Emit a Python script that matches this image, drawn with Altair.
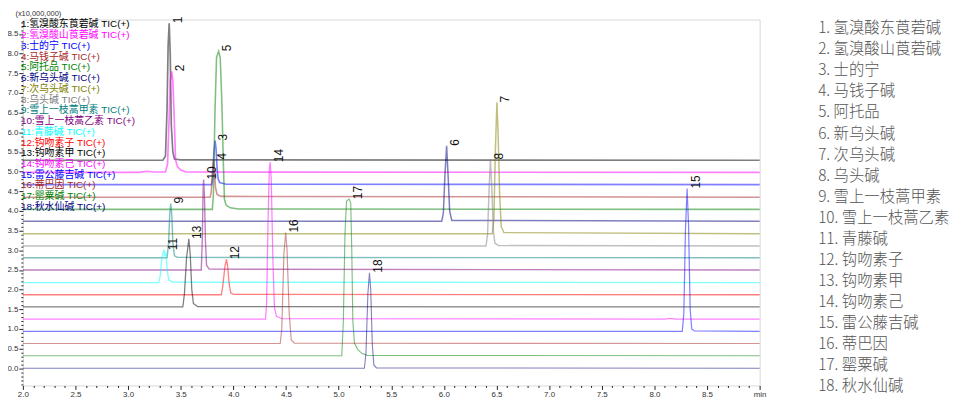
import altair as alt
import pandas as pd

# ---------------- data ----------------
names = ["氢溴酸东莨菪碱", "氢溴酸山莨菪碱", "士的宁", "马钱子碱", "阿托品", "新乌头碱",
         "次乌头碱", "乌头碱", "雪上一枝蒿甲素", "雪上一枝蒿乙素", "青藤碱", "钩吻素子",
         "钩吻素甲", "钩吻素己", "雷公藤吉碱", "蒂巴因", "罂粟碱", "秋水仙碱"]

trace_colors = ["#000000", "#ff00ff", "#0000ff", "#a52a2a", "#008000", "#000080",
                "#808000", "#808080", "#008080", "#800080", "#00ffff", "#ff0000",
                "#000000", "#ff00ff", "#0000ff", "#a52a2a", "#008000", "#000080"]

line_widths = [1.7, 1.1, 1.1, 1.5, 1.1, 1.1, 1.8, 1.1, 1.1, 1.5, 1.1, 1.1, 1.8, 1.1, 1.1, 1.5, 1.1, 1.1]

# (time [min], signal [x10,000,000])
trace_01 = [(2.00, 5.29), (3.33, 5.29), (3.355, 5.40), (3.37, 6.60), (3.38, 8.20), (3.39, 8.77),
            (3.40, 8.00), (3.41, 6.20), (3.425, 5.50), (3.44, 5.32), (3.50, 5.30), (9.00, 5.29)]
trace_02 = [(2.00, 4.98), (3.10, 4.98), (3.18, 5.01), (3.24, 4.99), (3.355, 4.99), (3.375, 5.20),
            (3.39, 6.40), (3.40, 7.30), (3.414, 7.55), (3.425, 7.30), (3.435, 6.60), (3.445, 5.80),
            (3.45, 5.30), (3.47, 5.12), (3.50, 5.04), (3.55, 4.99), (9.00, 4.98)]
trace_03 = [(2.00, 4.67), (3.795, 4.67), (3.805, 4.85), (3.815, 5.50), (3.826, 5.79), (3.835, 5.60),
            (3.845, 5.10), (3.855, 4.82), (3.87, 4.72), (3.93, 4.68), (9.00, 4.67)]
trace_04 = [(2.00, 4.35), (3.78, 4.35), (3.79, 4.50), (3.80, 5.00), (3.811, 5.31), (3.82, 5.05),
            (3.83, 4.60), (3.845, 4.42), (3.88, 4.37), (9.00, 4.35)]
trace_05 = [(2.00, 4.04), (3.80, 4.04), (3.81, 4.40), (3.825, 6.50), (3.84, 7.90), (3.86, 8.06),
            (3.875, 7.90), (3.89, 6.80), (3.905, 5.20), (3.915, 4.30), (3.93, 4.15), (3.97, 4.08),
            (4.05, 4.05), (9.00, 4.04)]
trace_06 = [(2.00, 3.74), (5.98, 3.74), (5.995, 3.95), (6.01, 4.90), (6.026, 5.66), (6.04, 4.90),
            (6.055, 4.00), (6.075, 3.76), (9.00, 3.74)]
trace_07 = [(2.00, 3.42), (6.46, 3.42), (6.475, 3.80), (6.49, 5.60), (6.504, 6.76), (6.515, 6.00),
            (6.53, 4.40), (6.545, 3.60), (6.57, 3.45), (9.00, 3.42)]
trace_08 = [(2.00, 3.11), (6.40, 3.11), (6.415, 3.40), (6.43, 4.60), (6.442, 5.31), (6.455, 4.60),
            (6.47, 3.50), (6.485, 3.18), (6.52, 3.12), (9.00, 3.11)]
trace_09 = [(2.00, 2.81), (3.37, 2.81), (3.385, 3.20), (3.395, 3.90), (3.405, 4.19), (3.415, 3.90),
            (3.425, 3.20), (3.44, 2.86), (3.47, 2.82), (9.00, 2.81)]
trace_10 = [(2.00, 2.50), (3.695, 2.50), (3.705, 3.30), (3.712, 4.50), (3.717, 4.80), (3.725, 4.40),
            (3.735, 3.20), (3.745, 2.62), (3.77, 2.52), (9.00, 2.50)]
trace_11 = [(2.00, 2.18), (3.29, 2.18), (3.305, 2.35), (3.32, 2.75), (3.335, 2.98), (3.343, 3.00),
            (3.35, 2.85), (3.358, 2.94), (3.37, 2.55), (3.385, 2.25), (3.42, 2.19), (9.00, 2.18)]
trace_12 = [(2.00, 1.87), (3.885, 1.87), (3.90, 2.10), (3.92, 2.60), (3.935, 2.77), (3.945, 2.60),
            (3.96, 2.15), (3.975, 1.92), (4.00, 1.88), (9.00, 1.87)]
trace_13 = [(2.00, 1.56), (3.52, 1.56), (3.535, 1.90), (3.555, 2.80), (3.577, 3.29), (3.59, 2.90),
            (3.605, 2.00), (3.62, 1.65), (3.66, 1.57), (9.00, 1.56)]
trace_14 = [(2.00, 1.25), (4.305, 1.25), (4.315, 1.60), (4.33, 3.80), (4.342, 5.10), (4.35, 5.24),
            (4.36, 4.80), (4.375, 2.80), (4.39, 1.55), (4.41, 1.32), (4.46, 1.26), (8.10, 1.25),
            (8.15, 1.27), (8.20, 1.25), (9.00, 1.25)]
trace_15 = [(2.00, 0.94), (8.265, 0.94), (8.28, 1.40), (8.295, 3.50), (8.311, 4.57), (8.325, 3.60),
            (8.34, 1.50), (8.355, 1.00), (8.38, 0.95), (9.00, 0.94)]
trace_16 = [(2.00, 0.63), (4.445, 0.63), (4.46, 1.00), (4.48, 2.90), (4.497, 3.45), (4.51, 3.00),
            (4.53, 1.40), (4.55, 0.72), (4.58, 0.64), (9.00, 0.63)]
trace_17 = [(2.00, 0.32), (5.03, 0.32), (5.045, 1.20), (5.06, 3.40), (5.075, 4.25), (5.10, 4.30),
            (5.115, 4.20), (5.125, 3.00), (5.135, 1.20), (5.15, 0.65), (5.18, 0.48), (5.22, 0.38),
            (5.27, 0.33), (9.00, 0.32)]
trace_18 = [(2.00, 0.00), (5.245, 0.00), (5.26, 0.40), (5.278, 1.90), (5.293, 2.43), (5.305, 2.00),
            (5.32, 0.60), (5.335, 0.08), (5.36, 0.01), (9.00, 0.00)]

traces = [trace_01, trace_02, trace_03, trace_04, trace_05, trace_06, trace_07, trace_08, trace_09,
          trace_10, trace_11, trace_12, trace_13, trace_14, trace_15, trace_16, trace_17, trace_18]

peak_times = [3.39, 3.414, 3.826, 3.811, 3.86, 6.026, 6.504, 6.442, 3.405,
              3.717, 3.343, 3.935, 3.577, 4.35, 8.311, 4.497, 5.10, 5.293]
peak_heights = [8.77, 7.55, 5.79, 5.31, 8.06, 5.66, 6.76, 5.31, 4.19,
                4.80, 3.00, 2.77, 3.29, 5.24, 4.57, 3.45, 4.30, 2.43]

y_unit_title = "(x10,000,000)"

# ---------------- tables ----------------
ids = [str(i) for i in range(1, 19)]
rows = []
for tid, pts in zip(ids, traces):
    for t, v in pts:
        rows.append({"trace": tid, "t": t, "v": v})
lines_df = pd.DataFrame(rows)

peaks_df = pd.DataFrame({"label": ids, "t": peak_times, "v": peak_heights})

legend_df = pd.DataFrame({
    "idx": list(range(1, 19)),
    "trace": ids,
    "inner": [f"{i}:{n} TIC(+)" for i, n in zip(ids, names)],
    "outer": [f"{i}. {n}" for i, n in zip(ids, names)],
})

# ---------------- scales & axes ----------------
color_scale = alt.Scale(domain=ids, range=trace_colors)
width_scale = alt.Scale(domain=ids, range=line_widths)
x_scale = alt.Scale(domain=[2.0, 9.0], nice=False, zero=False)
y_scale = alt.Scale(domain=[-0.436, 8.866], nice=False, zero=False)

is_major = "abs(datum.value*2 - round(datum.value*2)) < 0.001"

x_axis = alt.Axis(
    values=[round(2.0 + 0.1 * i, 1) for i in range(71)],
    labelExpr=f"datum.value > 8.99 ? 'min' : ({is_major} ? format(datum.value, '.1f') : '')",
    tickSize={"condition": {"test": is_major, "value": 4}, "value": 2},
    tickColor="#222", tickWidth=1, domain=False, grid=False,
    labelFont="Liberation Sans", labelFontSize=8, labelColor="#333",
    labelPadding=1, labelFlush=False, labelOverlap=False, labelBound=False, title=None,
)
y_axis = alt.Axis(
    values=[round(-0.4 + 0.1 * i, 1) for i in range(93)],
    labelExpr=f"({is_major} && datum.value >= 0) ? format(datum.value, '.1f') : ''",
    tickSize={"condition": {"test": is_major, "value": 4}, "value": 2},
    tickColor="#222", tickWidth=1, domain=False, grid=False,
    labelFont="Liberation Sans", labelFontSize=8, labelColor="#333",
    labelPadding=1, labelOverlap=False,
    title=y_unit_title, titleAngle=0, titleAlign="left", titleBaseline="bottom",
    titleX=-8, titleY=-2, titleFont="Liberation Sans", titleFontSize=7.5,
    titleFontWeight="normal", titleColor="#333",
)

lines = alt.Chart(lines_df).mark_line(strokeOpacity=0.5).encode(
    x=alt.X("t:Q", scale=x_scale, axis=x_axis),
    y=alt.Y("v:Q", scale=y_scale, axis=y_axis),
    color=alt.Color("trace:N", scale=color_scale, legend=None),
    strokeWidth=alt.StrokeWidth("trace:O", scale=width_scale, legend=None),
    detail="trace:N",
)

peak_text = alt.Chart(peaks_df).mark_text(
    angle=270, align="left", baseline="middle", dx=0, dy=8.5,
    font="Liberation Sans", fontSize=12, color="#111",
).encode(
    x=alt.X("t:Q", scale=x_scale, axis=x_axis),
    y=alt.Y("v:Q", scale=y_scale, axis=None),
    text="label:N",
)

inner_legend = alt.Chart(legend_df).mark_text(
    align="left", baseline="middle", font="Liberation Sans, Noto Sans CJK SC", fontSize=10,
).encode(
    x=alt.value(-2),
    y=alt.Y("idx:Q", scale=alt.Scale(domain=[1, 18], range=[5, 189]), axis=None),
    color=alt.Color("trace:N", scale=color_scale, legend=None),
    text="inner:N",
)

outer_legend = alt.Chart(legend_df).mark_text(
    align="left", baseline="middle", font="Noto Sans CJK SC", fontSize=15.5,
    fontWeight=300, color="#555",
).encode(
    x=alt.value(802),
    y=alt.Y("idx:Q", scale=alt.Scale(domain=[1, 18], range=[8.7, 370]), axis=None),
    text="outer:N",
)

chart = alt.layer(lines, peak_text, inner_legend, outer_legend).resolve_scale(
    y="independent"
).properties(
    width=743, height=369,
    padding={"left": 15, "top": 10, "right": 194, "bottom": 12},
    autosize=alt.AutoSizeParams(type="none"),
).configure_view(stroke="#d9d9d9", strokeWidth=1)

chart.save("out.html", embed_options={"renderer": "svg", "actions": False})
